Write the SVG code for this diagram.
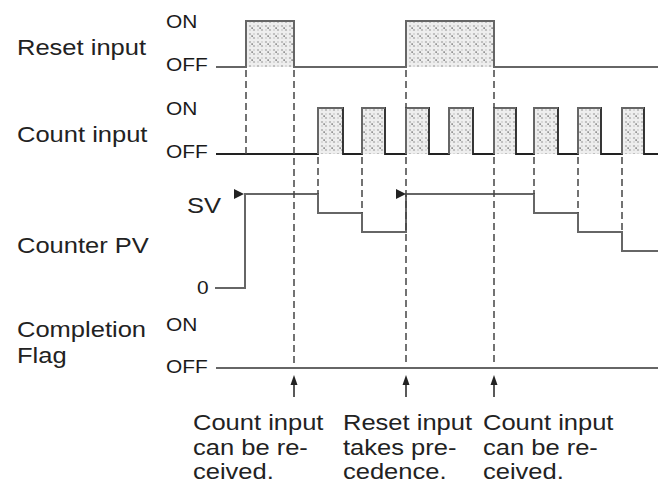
<svg xmlns="http://www.w3.org/2000/svg" width="662" height="484" viewBox="0 0 662 484">
<defs>
<pattern id="dots" width="8" height="8" patternUnits="userSpaceOnUse">
<rect width="8" height="8" fill="#eeeeee"/>
<circle cx="2" cy="2" r="1.1" fill="#b5b5b5"/>
<circle cx="6" cy="6" r="1.1" fill="#b5b5b5"/>
<circle cx="6" cy="2" r="0.9" fill="#cfcfcf"/>
<circle cx="2" cy="6" r="0.9" fill="#cfcfcf"/>
<rect x="3.5" y="3.5" width="1.2" height="1.2" fill="#333"/>
</pattern>
</defs>
<style>
.lbl{font-family:"Liberation Sans",Arial,sans-serif;font-size:22px;fill:#222}
.st{font-family:"Liberation Sans",Arial,sans-serif;font-size:19px;fill:#1a1a1a}
.sig{fill:none;stroke:#666;stroke-width:2}
.dk{fill:none;stroke:#222;stroke-width:1.8}
.pulse{fill:url(#dots);stroke:none}
.dash{fill:none;stroke:#444;stroke-width:1.5;stroke-dasharray:7,4}
.arr{fill:none;stroke:#222;stroke-width:1.5}
.head{fill:#222}
</style>

<g id="labels">
<text class="lbl" transform="translate(17,55) scale(1.16,1)">Reset input</text>
<text class="lbl" transform="translate(17,142) scale(1.16,1)">Count input</text>
<text class="lbl" transform="translate(17,253) scale(1.16,1)">Counter PV</text>
<text class="lbl" transform="translate(17,337) scale(1.16,1)">Completion</text>
<text class="lbl" transform="translate(17,363) scale(1.16,1)">Flag</text>
</g>

<g id="reset-input">
<text class="st" transform="translate(166,28) scale(1.1,1)">ON</text>
<text class="st" transform="translate(166,71) scale(1.1,1)">OFF</text>
<rect class="pulse" x="246" y="21" width="48" height="46"/>
<rect class="pulse" x="406" y="21" width="88" height="46"/>
<path class="sig" d="M216,67 H246 V21 H294 V67 H406 V21 H494 V67 H658"/>
</g>

<g id="count-input">
<text class="st" transform="translate(166,115) scale(1.1,1)">ON</text>
<text class="st" transform="translate(166,158) scale(1.1,1)">OFF</text>
<rect class="pulse" x="318" y="108" width="25" height="46"/>
<rect class="pulse" x="362" y="108" width="23" height="46"/>
<rect class="pulse" x="406" y="108" width="23" height="46"/>
<rect class="pulse" x="449" y="108" width="24" height="46"/>
<rect class="pulse" x="494" y="108" width="22" height="46"/>
<rect class="pulse" x="534" y="108" width="24" height="46"/>
<rect class="pulse" x="578" y="108" width="23" height="46"/>
<rect class="pulse" x="622" y="108" width="22" height="46"/>
<path class="dk" d="M216,154 H318 V108 H343 V154 H362 V108 H385 V154 H406 V108 H429 V154 H449 V108 H473 V154 H494 V108 H516 V154 H534 V108 H558 V154 H578 V108 H601 V154 H622 V108 H644 V154 H658"/>
<path class="sig" d="M318,154 V108 H343 M362,154 V108 H385 M406,154 V108 H429 M449,154 V108 H473 M494,154 V108 H516 M534,154 V108 H558 M578,154 V108 H601 M622,154 V108 H644" stroke="#777"/>
</g>

<g id="counter-pv">
<text class="lbl" transform="translate(187,213) scale(1.16,1)">SV</text>
<text class="st" transform="translate(197,294) scale(1.1,1)">0</text>
<path class="sig" d="M215,288 H245 V194 H318 V213 H362 V232 H406 V194 H534 V213 H578 V232 H622 V251 H658"/>
<polygon class="head" points="234,189 244,194 234,199"/>
<polygon class="head" points="396,189 406,194 396,199"/>
</g>

<g id="completion-flag">
<text class="st" transform="translate(166,331) scale(1.1,1)">ON</text>
<text class="st" transform="translate(166,373) scale(1.1,1)">OFF</text>
<path class="sig" d="M216,368 H658"/>
</g>

<g id="connectors">
<path class="dash" d="M246,70 V154"/>
<path class="dash" d="M294,70 V366"/>
<path class="dash" d="M318,157 V194"/>
<path class="dash" d="M362,157 V213"/>
<path class="dash" d="M406,70 V108 M406,157 V366"/>
<path class="dash" d="M494,70 V108 M494,157 V366"/>
<path class="dash" d="M534,157 V194"/>
<path class="dash" d="M578,157 V213"/>
<path class="dash" d="M622,157 V232"/>
<path class="arr" d="M294,397 V382"/>
<polygon class="head" points="294,375 297.5,385 290.5,385"/>
<path class="arr" d="M406,397 V382"/>
<polygon class="head" points="406,375 409.5,385 402.5,385"/>
<path class="arr" d="M494,397 V382"/>
<polygon class="head" points="494,375 497.5,385 490.5,385"/>
</g>

<g id="notes">
<text class="lbl" transform="translate(193,430) scale(1.16,1)">Count input</text>
<text class="lbl" transform="translate(193,455) scale(1.16,1)">can be re-</text>
<text class="lbl" transform="translate(193,479) scale(1.16,1)">ceived.</text>
<text class="lbl" transform="translate(343,430) scale(1.16,1)">Reset input</text>
<text class="lbl" transform="translate(343,455) scale(1.16,1)">takes pre-</text>
<text class="lbl" transform="translate(343,479) scale(1.16,1)">cedence.</text>
<text class="lbl" transform="translate(483,430) scale(1.16,1)">Count input</text>
<text class="lbl" transform="translate(483,455) scale(1.16,1)">can be re-</text>
<text class="lbl" transform="translate(483,479) scale(1.16,1)">ceived.</text>
</g>
</svg>
